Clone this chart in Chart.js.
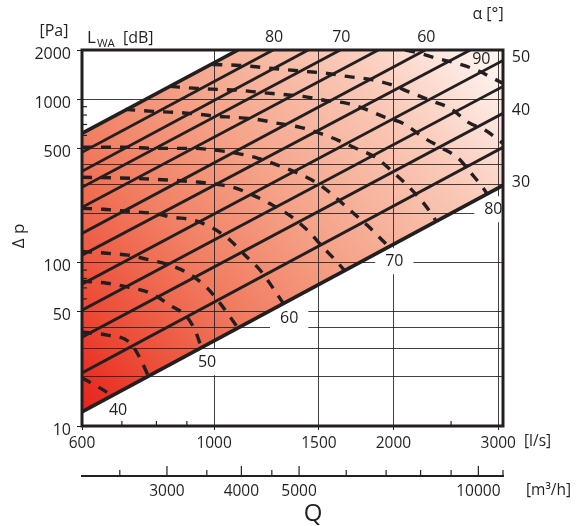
<!DOCTYPE html>
<html><head><meta charset="utf-8">
<script src="https://cdn.jsdelivr.net/npm/chart.js@4.4.1/dist/chart.umd.min.js"></script>
<style>html,body{margin:0;padding:0;background:#fff}#wrap{width:580px;height:526px}</style>
</head><body><div id="wrap"><canvas id="c" width="580" height="526"></canvas></div>
<script>
// ---------- axes ----------
const qMin = 600, qMax = 3055.6;          // l/s
const pMin = 10, pMax = 2000;             // Pa
const qTicks = [600, 1000, 1500, 2000, 3000];
const qMinorTicks = [700, 800, 900, 2500];
const m3hTicks = [3000, 4000, 5000, 10000];
const m3hMinorTicks = [2500, 3500, 4500, 6000, 7000, 8000, 9000, 11000];
const pLabelTicks = [10, 50, 100, 500, 1000, 2000];
const pGridLines = [20, 30, 40, 50, 100, 200, 300, 400, 500, 1000];
const pMinorTicks = [60, 70, 80, 90, 600, 700, 800, 900];

// ---------- damper angle lines (solid) ----------
const alphaAngles = [30, 35, 40, 45, 50, 55, 60, 65, 70, 75, 80, 85];
const alphaStartQ = [600, 600, 600, 600, 600, 600, 600, 600, 600, 600, 600, 600];
const alphaStartP = [12.2, 21.1, 35.0, 51.2, 73.8, 111, 151, 218, 289, 362, 473, 618];
const alphaEndQ = [3056, 3056, 3056, 3056, 3056, 2693, 2263, 1887, 1629, 1439, 1256, 1097];
const alphaEndP = [297, 508, 819, 1197, 1726, 2000, 2000, 2000, 2000, 2000, 2000, 2000];
const alphaTopLabels = [60, 70, 80];
const alphaRightLabels = [30, 40, 50];

// ---------- sound power level curves (dashed) ----------
const lwa40Q = [600, 631, 664, 674];
const lwa40P = [19.7, 17.8, 15.9, 15.3];
const lwa45Q = [600, 661, 723, 751, 775];
const lwa45P = [37.5, 36.0, 32.2, 26.0, 20.3];
const lwa50Q = [600, 661, 717, 781, 843, 904, 936, 951];
const lwa50P = [77.0, 74.8, 70.7, 65.0, 54.9, 45.7, 36.0, 30.4];
const lwa55Q = [600, 661, 717, 787, 843, 904, 974, 1035, 1093];
const lwa55P = [117, 114, 111, 103, 96.4, 86.1, 69.8, 53.4, 40.5];
const lwa60Q = [600, 651, 714, 790, 853, 922, 996, 1064, 1127, 1195, 1256, 1306];
const lwa60P = [215, 212, 206, 200, 189.5, 182, 162, 137, 111, 89.8, 69.8, 56.5];
const lwa65Q = [600, 723, 853, 947, 1012, 1076, 1163, 1256, 1352, 1439, 1524, 1610, 1654];
const lwa65P = [333, 328, 319, 310, 301, 289, 258, 224, 189.5, 156, 124, 100.6, 89.8];
const lwa70Q = [600, 714, 790, 922, 1012, 1093, 1185, 1281, 1384, 1490, 1585, 1692, 1808, 1916, 1961];
const lwa70P = [508, 508, 500, 500, 486, 466, 435, 394, 352, 306, 258, 209, 169, 137, 126];
const lwa75Q = [709, 790, 867, 947, 1012, 1084, 1181, 1281, 1395, 1507, 1616, 1746, 1865, 1999, 2135, 2263, 2361];
const lwa75P = [866, 842, 830, 807, 785, 774, 752, 711, 673, 618, 560, 493, 441, 357, 285, 224, 179];
const lwa80Q = [843, 936, 1012, 1106, 1195, 1301, 1411, 1537, 1673, 1780, 1938, 2078, 2245, 2398, 2571, 2693, 2832, 2876];
const lwa80P = [1197, 1164, 1148, 1132, 1100, 1070, 1040, 983, 943, 879, 774, 711, 584, 508, 435, 357, 285, 262];
const lwa85Q = [993, 1106, 1204, 1306, 1422, 1549, 1673, 1829, 1976, 2135, 2307, 2493, 2672, 2854, 3056];
const lwa85P = [1632, 1609, 1565, 1521, 1479, 1438, 1378, 1321, 1232, 1100, 983, 879, 721, 645, 537];
const lwa90Q = [2094, 2219, 2370, 2561, 2767, 2944, 3056];
const lwa90P = [2000, 1905, 1776, 1655, 1500, 1340, 1249];
const lwaLevels = [40, 45, 50, 55, 60, 65, 70, 75, 80, 85, 90];
const lwaQ = [lwa40Q, lwa45Q, lwa50Q, lwa55Q, lwa60Q, lwa65Q, lwa70Q, lwa75Q, lwa80Q, lwa85Q, lwa90Q];
const lwaP = [lwa40P, lwa45P, lwa50P, lwa55P, lwa60P, lwa65P, lwa70P, lwa75P, lwa80P, lwa85P, lwa90P];
const lwaEndLabels = [40, 50, 60, 70, 80];
const lwaInnerLabels = [90];

// ---------- styling ----------
const INK = '#231f20';
const GRID = 'rgba(35,31,32,0.85)';
const FONT = "'Open Sans', 'DejaVu Sans', sans-serif";
const NONE = 'rgba(0,0,0,0)';

function gradientFill(context) {
  const chart = context.chart;
  const a = chart.chartArea;
  if (!a) return '#f29070';
  const g = chart.ctx.createLinearGradient(a.left, a.bottom, a.right, a.top);
  g.addColorStop(0, '#e61e1a');
  g.addColorStop(0.15, '#ec4a36');
  g.addColorStop(0.35, '#f17e62');
  g.addColorStop(0.55, '#f5a58b');
  g.addColorStop(0.78, '#fac9b8');
  g.addColorStop(1, '#fffaf8');
  return g;
}

const datasets = [];
const lastA = alphaAngles.length - 1;
datasets.push({
  isFill: true, order: 100,
  data: [
    {x: alphaStartQ[0], y: alphaStartP[0]},
    {x: alphaEndQ[0], y: alphaEndP[0]},
    {x: qMax, y: pMax},
    {x: alphaEndQ[lastA], y: alphaEndP[lastA]},
    {x: alphaStartQ[lastA], y: alphaStartP[lastA]}
  ],
  showLine: true, borderWidth: 0, borderColor: NONE, pointRadius: 0,
  fill: 'shape', backgroundColor: gradientFill
});
lwaLevels.forEach((lv, i) => {
  datasets.push({
    kind: 'lwa', level: lv,
    data: lwaQ[i].map((q, k) => ({x: q, y: lwaP[i][k]})),
    showLine: true, borderColor: INK, borderWidth: 3.4, borderDash: [10, 9],
    borderCapStyle: 'butt', pointRadius: 0, fill: false,
    cubicInterpolationMode: 'monotone'
  });
});
alphaAngles.forEach((ang, i) => {
  datasets.push({
    kind: 'alpha', angle: ang,
    data: [{x: alphaStartQ[i], y: alphaStartP[i]}, {x: alphaEndQ[i], y: alphaEndP[i]}],
    showLine: true, borderColor: INK, borderWidth: (i === 0 || i === lastA) ? 3.6 : 2.9,
    pointRadius: 0, fill: false
  });
});

function text(ctx, s, x, y, size, align, base) {
  ctx.font = size + 'px ' + FONT;
  ctx.fillStyle = INK;
  ctx.textAlign = align || 'center';
  ctx.textBaseline = base || 'middle';
  ctx.fillText(s, x, y);
}

const overlay = {
  id: 'overlay',
  beforeDatasetsDraw(chart) {
    const ctx = chart.ctx, xs = chart.scales.x, ys = chart.scales.y;
    ctx.save();
    lwaEndLabels.forEach(lv => {
      const i = lwaLevels.indexOf(lv);
      const q = lwaQ[i], p = lwaP[i];
      const px = xs.getPixelForValue(q[q.length - 1]) + 6;
      const py = ys.getPixelForValue(p[p.length - 1]) + 15;
      ctx.font = '16px ' + FONT;
      const w = ctx.measureText(String(lv)).width;
      ctx.fillStyle = '#fff';
      ctx.fillRect(px - w / 2 - 10, py - 13, w + 20, 26);
      text(ctx, String(lv), px, py, 16);
    });
    ctx.restore();
  },
  afterDatasetDraw(chart, args) {
    const ds = chart.data.datasets[args.index];
    if (!ds.isFill) return;
    const ctx = chart.ctx;
    const pts = args.meta.data;
    ctx.save();
    ctx.beginPath();
    pts.forEach((pt, k) => { if (k === 0) ctx.moveTo(pt.x, pt.y); else ctx.lineTo(pt.x, pt.y); });
    ctx.closePath();
    ctx.clip();
    try { chart.scales.x.drawGrid(chart.chartArea); chart.scales.y.drawGrid(chart.chartArea); } catch (e) {}
    ctx.restore();
  },
  afterDraw(chart) {
    const ctx = chart.ctx, a = chart.chartArea;
    const xs = chart.scales.x, ys = chart.scales.y, x2 = chart.scales.x2;
    ctx.save();
    // minor ticks
    ctx.strokeStyle = INK; ctx.lineWidth = 1.2;
    pMinorTicks.forEach(v => { const y = ys.getPixelForValue(v); ctx.beginPath(); ctx.moveTo(a.left, y); ctx.lineTo(a.left + 5, y); ctx.stroke(); });
    qMinorTicks.forEach(v => { const x = xs.getPixelForValue(v); ctx.beginPath(); ctx.moveTo(x, a.bottom); ctx.lineTo(x, a.bottom - 5); ctx.stroke(); });
    const x2y = x2.top;
    m3hTicks.forEach(v => { const x = x2.getPixelForValue(v); ctx.beginPath(); ctx.moveTo(x, x2y); ctx.lineTo(x, x2y - 10); ctx.stroke(); });
    m3hMinorTicks.forEach(v => { const x = x2.getPixelForValue(v); ctx.beginPath(); ctx.moveTo(x, x2y); ctx.lineTo(x, x2y - 6); ctx.stroke(); });
    // frame
    ctx.lineWidth = 3; ctx.strokeStyle = INK;
    ctx.strokeRect(a.left, a.top, a.right - a.left, a.bottom - a.top);
    // alpha labels
    alphaTopLabels.forEach(ang => {
      const i = alphaAngles.indexOf(ang);
      text(ctx, String(ang), xs.getPixelForValue(alphaEndQ[i]) + 1, a.top - 13, 16);
    });
    alphaRightLabels.forEach(ang => {
      const i = alphaAngles.indexOf(ang);
      text(ctx, String(ang), a.right + 18, ys.getPixelForValue(alphaEndP[i]) - 3, 16);
    });
    lwaInnerLabels.forEach(lv => {
      const i = lwaLevels.indexOf(lv);
      text(ctx, String(lv), xs.getPixelForValue(lwaQ[i][4]) + 4, ys.getPixelForValue(lwaP[i][4]) - 11, 16);
    });
    // titles / units
    text(ctx, '[Pa]', 54, 31, 16);
    text(ctx, 'L', 87, 43, 17, 'left', 'alphabetic');
    text(ctx, 'WA', 97, 47, 11.5, 'left', 'alphabetic');
    text(ctx, '[dB]', 123, 43, 16, 'left', 'alphabetic');
    text(ctx, 'α [°]', 488, 14, 16);
    text(ctx, '[l/s]', 524, 442, 15.5, 'left');
    text(ctx, '[m³/h]', 526, 491, 15.5, 'left');
    text(ctx, 'Q', 313, 514, 24);
    ctx.save();
    ctx.translate(19, 236); ctx.rotate(-Math.PI / 2);
    text(ctx, 'Δ p', 0, 0, 17);
    ctx.restore();
    ctx.restore();
  }
};

new Chart(document.getElementById('c'), {
  type: 'scatter',
  data: { datasets },
  options: {
    responsive: false, animation: false,
    layout: { padding: { left: 0, right: 77, top: 50, bottom: 0 } },
    plugins: { legend: { display: false }, tooltip: { enabled: false } },
    scales: {
      x: {
        type: 'logarithmic', min: qMin, max: qMax, position: 'bottom', weight: 0,
        afterFit: s => { s.height = 50; },
        afterBuildTicks: s => { s.ticks = qTicks.map(v => ({value: v})); },
        ticks: { callback: v => String(v), autoSkip: false, maxRotation: 0, padding: 4,
                 color: INK, font: { family: FONT, size: 15.5 } },
        grid: { color: c => (c.tick && c.tick.value === qMin) ? NONE : GRID, lineWidth: 1,
                drawTicks: true, tickLength: 4, tickColor: INK },
        border: { display: false }
      },
      x2: {
        type: 'logarithmic', min: qMin * 3.6, max: qMax * 3.6, position: 'bottom', weight: 1,
        afterFit: s => { s.height = 50; },
        afterBuildTicks: s => { s.ticks = m3hTicks.map(v => ({value: v})); },
        ticks: { callback: v => String(v), autoSkip: false, maxRotation: 0, padding: 6,
                 color: INK, font: { family: FONT, size: 15.5 } },
        grid: { display: false, drawTicks: false },
        border: { display: true, color: INK, width: 2 }
      },
      y: {
        type: 'logarithmic', min: pMin, max: pMax,
        afterFit: s => { s.width = 82; },
        afterBuildTicks: s => { s.ticks = pGridLines.concat([10, 2000]).sort((m, n) => m - n).map(v => ({value: v})); },
        ticks: { callback: v => pLabelTicks.includes(v) ? String(v) : '', autoSkip: false,
                 padding: 6, labelOffset: 4, color: INK, font: { family: FONT, size: 16 } },
        grid: { color: c => (c.tick && pGridLines.includes(c.tick.value)) ? GRID : NONE, lineWidth: 1,
                drawTicks: true, tickLength: 5,
                tickColor: c => (c.tick && pLabelTicks.includes(c.tick.value)) ? INK : NONE },
        border: { display: false }
      }
    }
  },
  plugins: [overlay]
});
</script>
</body></html>
